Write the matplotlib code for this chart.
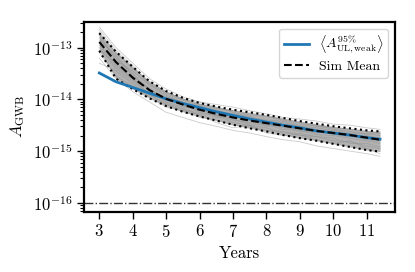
import numpy as np
import matplotlib
matplotlib.use("Agg")
import matplotlib.pyplot as plt

plt.rcParams['font.family'] = 'serif'
plt.rcParams['font.serif'] = ['cmr10']
plt.rcParams['mathtext.fontset'] = 'cm'
plt.rcParams['axes.formatter.use_mathtext'] = True

# observation span in years
years = [3.0, 3.5, 4.0, 4.5, 5.0, 5.5, 6.0, 6.5, 7.0, 7.5,
         8.0, 8.5, 9.0, 9.5, 10.0, 10.5, 11.0, 11.4]

# log10 of amplitudes
ul_weak = [-13.49, -13.66, -13.77, -13.88, -13.99, -14.08, -14.16, -14.24, -14.31,
           -14.38, -14.44, -14.50, -14.55, -14.61, -14.65, -14.69, -14.74, -14.77]
sim_mean = [-12.89, -13.28, -13.58, -13.82, -13.99, -14.10, -14.20, -14.28, -14.35,
            -14.41, -14.46, -14.51, -14.56, -14.61, -14.65, -14.69, -14.74, -14.78]
sim_upper = [-12.72, -13.08, -13.37, -13.65, -13.84, -13.97, -14.07, -14.14, -14.20,
             -14.25, -14.30, -14.36, -14.42, -14.47, -14.52, -14.56, -14.60, -14.62]
sim_lower = [-13.06, -13.60, -13.80, -13.98, -14.13, -14.24, -14.33, -14.41, -14.49,
             -14.56, -14.62, -14.69, -14.75, -14.80, -14.86, -14.92, -14.98, -15.01]

# individual realisations (log10)
real_01 = [-12.65, -13.05, -13.35, -13.70, -13.88, -14.02, -14.10, -14.18, -14.22,
           -14.30, -14.33, -14.40, -14.45, -14.52, -14.55, -14.58, -14.62, -14.66]
real_02 = [-13.10, -13.55, -13.75, -13.95, -14.15, -14.22, -14.35, -14.40, -14.50,
           -14.52, -14.60, -14.62, -14.70, -14.72, -14.80, -14.82, -14.90, -14.95]
real_03 = [-12.80, -13.20, -13.50, -13.85, -13.95, -14.05, -14.25, -14.30, -14.40,
           -14.45, -14.44, -14.55, -14.58, -14.65, -14.62, -14.70, -14.78, -14.80]
real_04 = [-12.95, -13.35, -13.62, -13.78, -14.05, -14.15, -14.18, -14.32, -14.30,
           -14.38, -14.50, -14.48, -14.55, -14.58, -14.68, -14.72, -14.70, -14.75]
real_05 = [-13.30, -13.45, -13.70, -13.90, -14.10, -14.20, -14.30, -14.45, -14.55,
           -14.50, -14.65, -14.70, -14.68, -14.78, -14.85, -14.80, -14.95, -15.05]
real_06 = [-12.70, -13.10, -13.40, -13.65, -13.85, -14.00, -14.05, -14.15, -14.25,
           -14.35, -14.40, -14.42, -14.50, -14.50, -14.58, -14.62, -14.68, -14.62]
real_07 = [-13.00, -13.40, -13.65, -13.88, -13.98, -14.12, -14.22, -14.25, -14.38,
           -14.48, -14.48, -14.58, -14.60, -14.68, -14.70, -14.75, -14.80, -14.85]
real_08 = [-12.85, -13.15, -13.55, -13.80, -14.02, -14.08, -14.15, -14.35, -14.33,
           -14.40, -14.52, -14.50, -14.62, -14.60, -14.66, -14.66, -14.75, -14.80]
real_09 = [-12.60, -13.00, -13.30, -13.60, -13.80, -13.95, -14.05, -14.10, -14.15,
           -14.22, -14.28, -14.35, -14.38, -14.42, -14.48, -14.50, -14.55, -14.58]
real_10 = [-13.20, -13.60, -13.85, -14.05, -14.25, -14.35, -14.45, -14.52, -14.60,
           -14.65, -14.72, -14.78, -14.82, -14.90, -14.95, -15.00, -15.05, -15.10]
real_11 = [-12.75, -13.25, -13.45, -13.72, -13.92, -14.06, -14.12, -14.22, -14.28,
           -14.33, -14.42, -14.45, -14.52, -14.55, -14.60, -14.65, -14.66, -14.70]
real_12 = [-13.05, -13.30, -13.60, -13.92, -14.08, -14.18, -14.28, -14.30, -14.45,
           -14.50, -14.55, -14.65, -14.66, -14.72, -14.75, -14.85, -14.85, -14.92]
realisations = [real_01, real_02, real_03, real_04, real_05, real_06,
                real_07, real_08, real_09, real_10, real_11, real_12]

floor_amp = 1e-16

fig = plt.figure(figsize=(4.15, 2.72), dpi=100)
ax = fig.add_axes([0.203, 0.222, 0.749, 0.698])

ax.fill_between(years, 10**np.array(sim_lower), 10**np.array(sim_upper),
                color='0.5', alpha=0.6, lw=0)
for r in realisations:
    ax.plot(years, 10**np.array(r), color='0.55', lw=0.6, alpha=0.45)
ax.plot(years, 10**np.array(sim_upper), color='k', ls=':', lw=1.5)
ax.plot(years, 10**np.array(sim_lower), color='k', ls=':', lw=1.5)
ax.plot(years, 10**np.array(ul_weak), color='#1f77b4', lw=2,
        label=r'$\left\langle A^{95\%}_{\rm UL,weak}\right\rangle$')
ax.plot(years, 10**np.array(sim_mean), color='k', ls='--', lw=1.5, label='Sim Mean')
ax.axhline(floor_amp, color='0.2', ls='-.', lw=1)

ax.set_yscale('log')
ax.set_xlim(2.55, 11.85)
ax.set_ylim(10**-16.17, 10**-12.5)
ax.set_yticks([1e-16, 1e-15, 1e-14, 1e-13])
ax.set_xticks(range(3, 12))
ax.set_xlabel('Years', fontsize=12)
ax.set_ylabel(r'$A_{\rm GWB}$', fontsize=12)
ax.tick_params(labelsize=12, direction='out')
ax.tick_params(which='major', length=5, width=1)
ax.tick_params(which='minor', length=3, width=0.8)
for s in ax.spines.values():
    s.set_linewidth(1.6)

ax.legend(loc='upper right', fontsize=10, framealpha=0.8, labelspacing=0.3,
          handlelength=1.8, borderpad=0.35, handletextpad=0.7)
fig.savefig('out.png', dpi=100)
